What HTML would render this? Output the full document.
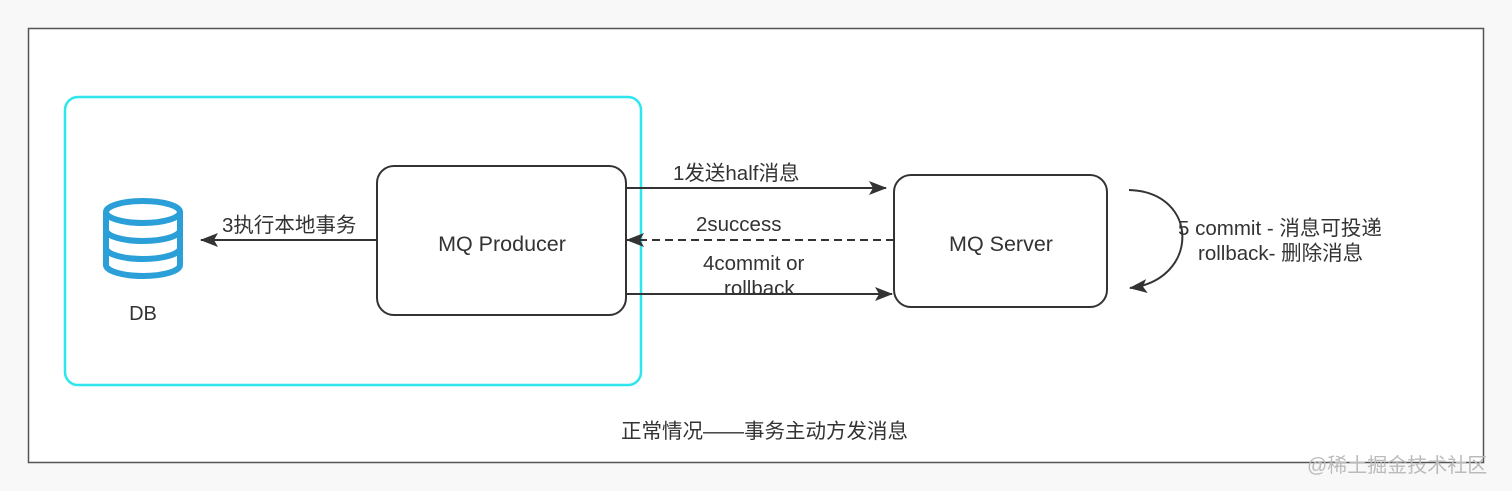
<!DOCTYPE html>
<html><head><meta charset="utf-8"><style>
html,body{margin:0;padding:0;background:#f8f8f8;}
svg{display:block;}
text{font-family:"Liberation Sans","Noto Sans CJK SC",sans-serif;fill:#333;}
</style></head><body>
<svg width="1512" height="491" viewBox="0 0 1512 491" xmlns="http://www.w3.org/2000/svg">
<defs>
<marker id="a" markerWidth="18" markerHeight="14" refX="17" refY="7" orient="auto" markerUnits="userSpaceOnUse">
<path d="M0,0 L18,7 L0,14 L4,7 Z" fill="#333"/></marker>
</defs>
<rect x="28.5" y="28.5" width="1455" height="434" fill="#fff" stroke="#555" stroke-width="1.5"/>
<rect x="65" y="97" width="576" height="288" rx="13" fill="none" stroke="#2ee6ee" stroke-width="2.5"/>
<g fill="none" stroke="#2a9fd8" stroke-width="6">
<ellipse cx="143" cy="212" rx="37" ry="11"/>
<path d="M106,212 V265 A37,11 0 0 0 180,265 V212"/>
<path d="M106,230 A37,11 0 0 0 180,230"/>
<path d="M106,248 A37,11 0 0 0 180,248"/>
</g>
<text x="143" y="320" font-size="20" text-anchor="middle">DB</text>
<rect x="377" y="166" width="249" height="149" rx="17" fill="#fff" stroke="#333" stroke-width="2"/>
<text x="502" y="251" font-size="21.5" text-anchor="middle">MQ Producer</text>
<rect x="894" y="175" width="213" height="132" rx="17" fill="#fff" stroke="#333" stroke-width="2"/>
<text x="1001" y="251" font-size="21.5" text-anchor="middle">MQ Server</text>
<g stroke="#333" stroke-width="2" fill="none">
<line x1="377" y1="240" x2="201" y2="240" marker-end="url(#a)"/>
<line x1="626" y1="188" x2="886" y2="188" marker-end="url(#a)"/>
<line x1="894" y1="240" x2="627" y2="240" stroke-dasharray="8,5" marker-end="url(#a)"/>
<line x1="626" y1="294" x2="892" y2="294" marker-end="url(#a)"/>
<path d="M1129,190 C1200,192 1200,280 1130,288" marker-end="url(#a)"/>
</g>
<text x="222" y="232" font-size="20.5">3执行本地事务</text>
<text x="673" y="180" font-size="20.5">1发送half消息</text>
<text x="696" y="231" font-size="20.5">2success</text>
<text x="703" y="270" font-size="20.5">4commit or</text>
<text x="724" y="295" font-size="20.5">rollback</text>
<text x="1178" y="235" font-size="20.5">5 commit - 消息可投递</text>
<text x="1198" y="260" font-size="20.5">rollback- 删除消息</text>
<text x="621" y="438" font-size="20.5">正常情况——事务主动方发消息</text>
<text x="1307" y="472" font-size="20" style="fill:#bbb">@稀土掘金技术社区</text>
</svg>
</body></html>
